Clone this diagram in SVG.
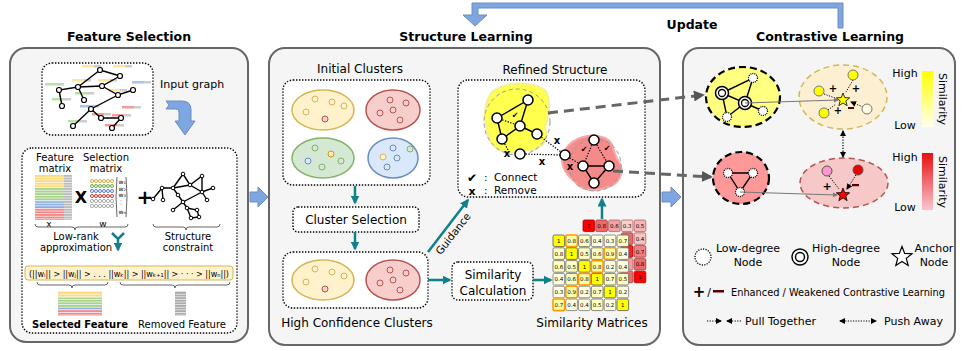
<svg xmlns="http://www.w3.org/2000/svg" width="964" height="351" viewBox="0 0 964 351">
<defs>
<style>
text{font-family:"DejaVu Sans",sans-serif;fill:#000}
.ttl{font-size:12.5px;font-weight:bold;text-anchor:middle}
.lbl{font-size:12px;text-anchor:middle}
.sm{font-size:10px;text-anchor:middle}
.lg{font-size:11px;text-anchor:middle}
.num{font-size:5.5px;text-anchor:middle}
.panel{fill:#f5f5f5;stroke:#666;stroke-width:2}
.dotbox{fill:#fff;stroke:#000;stroke-width:1.4;stroke-dasharray:1.4 1.6}
.teal{stroke:#10808a;stroke-width:2.5;fill:none}
.edge{stroke:#000;stroke-width:1.4;fill:none}
.dedge{stroke:#000;stroke-width:1.2;stroke-dasharray:1.3 1.5;fill:none}
.gn{fill:#fff;stroke:#000;stroke-width:1.2}
.wn{fill:#fff;stroke:#000;stroke-width:1.5}
.ln{fill:#fff;stroke:#000;stroke-width:1.3;stroke-dasharray:1 1}
.blue{fill:#7ea6e0;stroke:#6c8ebf;stroke-width:1}
.ey{fill:#fff2cc;stroke:#d6b656;stroke-width:1.5}
.er{fill:#f8cecc;stroke:#b85450;stroke-width:1.5}
.eg{fill:#d5e8d4;stroke:#82b366;stroke-width:1.5}
.eb{fill:#dae8fc;stroke:#6c8ebf;stroke-width:1.5}
.cy{fill:#fff2cc;stroke:#d6b656;stroke-width:1}
.cr{fill:#f8cecc;stroke:#b85450;stroke-width:1}
.cg{fill:#d5e8d4;stroke:#82b366;stroke-width:1}
.cb{fill:#dae8fc;stroke:#6c8ebf;stroke-width:1}
.co{fill:#ffe6cc;stroke:#d79b00;stroke-width:1}
.c1{fill:#ffff00;stroke:#555;stroke-width:0.8}
.cO{fill:#ffffa8;stroke:#ff9900;stroke-width:1.6}
.cp{fill:#ffffc2;stroke:#666;stroke-width:0.8}
.cq{fill:#ffffdf;stroke:#777;stroke-width:0.8}
.gd{stroke:#999;stroke-width:1;stroke-dasharray:4 3;fill:none}
.brace{fill:none;stroke:#555;stroke-width:0.9}
.pull{stroke:#000;stroke-width:1;stroke-dasharray:1.2 1.4;fill:none}
</style>
<marker id="ta" viewBox="0 0 6 6" refX="5" refY="3" markerWidth="9" markerHeight="9" markerUnits="userSpaceOnUse" orient="auto"><path d="M0,0 L6,3 L0,6 Z" fill="#10808a"/></marker>
<marker id="ga" viewBox="0 0 6 6" refX="5" refY="3" markerWidth="11" markerHeight="11" markerUnits="userSpaceOnUse" orient="auto"><path d="M0,0 L6,3 L0,6 Z" fill="#555"/></marker>
<marker id="ba" viewBox="0 0 6 6" refX="5" refY="3" markerWidth="6" markerHeight="6" markerUnits="userSpaceOnUse" orient="auto-start-reverse"><path d="M0,0 L6,3 L0,6 Z" fill="#000"/></marker>
<marker id="tn" viewBox="0 0 6 6" refX="5" refY="3" markerWidth="5" markerHeight="5" markerUnits="userSpaceOnUse" orient="auto"><path d="M0,0 L6,3 L0,6 Z" fill="#777"/></marker>
<pattern id="stripe" width="6" height="2.6" patternUnits="userSpaceOnUse"><rect width="6" height="0.8" fill="#fff" opacity="0.8"/></pattern>
<linearGradient id="gy" x1="0" y1="0" x2="0" y2="1"><stop offset="0" stop-color="#ffff00"/><stop offset="1" stop-color="#fffff0"/></linearGradient>
<linearGradient id="gr" x1="0" y1="0" x2="0" y2="1"><stop offset="0" stop-color="#e51010"/><stop offset="1" stop-color="#fbc4cf"/></linearGradient>
<path id="star" d="M0,-7 L1.763,-2.427 L6.657,-2.163 L2.853,0.927 L4.114,5.663 L0,3 L-4.114,5.663 L-2.853,0.927 L-6.657,-2.163 L-1.763,-2.427 Z"/>
</defs>
<rect width="964" height="351" fill="#fff"/>

<g id="titles">
<text class="ttl" x="129" y="41">Feature Selection</text>
<text class="ttl" x="466" y="41">Structure Learning</text>
<text class="ttl" x="830" y="41">Contrastive Learning</text>
<text class="ttl" x="692" y="29">Update</text>
</g>
<g id="update-arrow">
<path class="blue" d="M843,28 L843,3 L472,3 L472,15 L463,15 L475,26 L487,15 L478,15 L478,8 L838,8 L838,28 Z"/>
</g>

<g id="panel-feature"><rect class="panel" x="10" y="48" width="238" height="294" rx="16"/></g>
<g id="panel-structure"><rect class="panel" x="269" y="48" width="391" height="297" rx="16"/></g>
<g id="panel-contrastive"><rect class="panel" x="683" y="48" width="272" height="297" rx="16"/></g>

<g id="panel-arrows">
<path class="blue" d="M250,192 L258,192 L258,187 L268,197 L258,207 L258,202 L250,202 Z"/>
<path class="blue" d="M662,192 L671,192 L671,187 L681,197 L671,207 L671,202 L662,202 Z"/>
</g>

<g id="input-graph">
<rect class="dotbox" x="42" y="63" width="111" height="72" rx="10"/>
<g>
<rect x="82" y="65" width="12" height="2.5" fill="#ffe699"/><rect x="94" y="65" width="7" height="2.5" fill="#ccc"/>
<rect x="113" y="65" width="12" height="2.5" fill="#ffe699"/><rect x="125" y="65" width="7" height="2.5" fill="#ccc"/>
<rect x="72" y="79" width="12" height="2.5" fill="#ffe699"/><rect x="84" y="79" width="7" height="2.5" fill="#ccc"/>
<rect x="98" y="79" width="12" height="2.5" fill="#ffe699"/><rect x="110" y="79" width="7" height="2.5" fill="#ccc"/>
<rect x="45" y="83" width="12" height="2.5" fill="#b9e0a5"/><rect x="57" y="83" width="7" height="2.5" fill="#ccc"/>
<rect x="132" y="81" width="12" height="2.5" fill="#a9c4eb"/><rect x="144" y="81" width="7" height="2.5" fill="#ccc"/>
<rect x="75" y="92" width="12" height="2.5" fill="#b9e0a5"/><rect x="87" y="92" width="7" height="2.5" fill="#ccc"/>
<rect x="108" y="89" width="12" height="2.5" fill="#ffe699"/><rect x="120" y="89" width="7" height="2.5" fill="#ccc"/>
<rect x="52" y="98" width="12" height="2.5" fill="#b9e0a5"/><rect x="64" y="98" width="7" height="2.5" fill="#ccc"/>
<rect x="80" y="105" width="12" height="2.5" fill="#a9c4eb"/><rect x="92" y="105" width="7" height="2.5" fill="#ccc"/>
<rect x="122" y="106" width="12" height="2.5" fill="#f19c99"/><rect x="134" y="106" width="7" height="2.5" fill="#ccc"/>
<rect x="92" y="113" width="12" height="2.5" fill="#f19c99"/><rect x="104" y="113" width="7" height="2.5" fill="#ccc"/>
<rect x="112" y="114" width="12" height="2.5" fill="#f19c99"/><rect x="124" y="114" width="7" height="2.5" fill="#ccc"/>
<rect x="68" y="120" width="12" height="2.5" fill="#b9e0a5"/><rect x="80" y="120" width="7" height="2.5" fill="#ccc"/>
<rect x="105" y="124" width="12" height="2.5" fill="#f19c99"/><rect x="117" y="124" width="7" height="2.5" fill="#ccc"/>
</g>
<path class="edge" d="M100,70 L120,76 M100,70 L78,87 M78,87 L102,86 L120,76 M78,87 L59,90 L62,106 M78,87 L84,100 M102,86 L118,95 L133,90 M118,95 L91,109 L73,126 M91,109 L101,118 L121,118 L112,128"/>
<g class="gn">
<circle cx="100" cy="70" r="2.5"/><circle cx="120" cy="76" r="2.5"/><circle cx="78" cy="87" r="2.5"/><circle cx="102" cy="86" r="2.5"/><circle cx="59" cy="90" r="2.5"/><circle cx="133" cy="90" r="2.5"/><circle cx="118" cy="95" r="2.5"/><circle cx="84" cy="100" r="2.5"/><circle cx="62" cy="106" r="2.5"/><circle cx="91" cy="109" r="2.5"/><circle cx="101" cy="118" r="2.5"/><circle cx="121" cy="118" r="2.5"/><circle cx="73" cy="126" r="2.5"/><circle cx="112" cy="128" r="2.5"/>
</g>
<text x="160" y="88" font-size="11">Input graph</text>
<path class="blue" d="M166,101 L182,101 Q191,101 191,110 L191,121 L195,121 L185,135 L175,121 L179,121 L179,112 Q179,109 176,109 L166,109 L169,105 Z"/>
</g>

<g id="feature-selection">
<rect class="dotbox" x="22" y="148" width="215" height="185" rx="10"/>
<text class="sm" x="55" y="161">Feature</text>
<text class="sm" x="55" y="172">matrix</text>
<text class="sm" x="106" y="161">Selection</text>
<text class="sm" x="106" y="172">matrix</text>
<rect x="35" y="175" width="29" height="13" fill="#fbd97e"/>
<rect x="35" y="188" width="29" height="14" fill="#a9d18e"/>
<rect x="35" y="202" width="29" height="5" fill="#8fb1e3"/>
<rect x="35" y="207" width="29" height="13" fill="#ee8a8a"/>
<rect x="64" y="175" width="8" height="45" fill="#bbb"/>
<rect x="35" y="175" width="37" height="45" fill="url(#stripe)"/>
<text x="81" y="203" font-size="16" font-weight="bold" text-anchor="middle">X</text>
<g class="cy"><circle cx="92" cy="181" r="1.6"/><circle cx="96" cy="181" r="1.6"/><circle cx="100" cy="181" r="1.6"/><circle cx="104" cy="181" r="1.6"/><circle cx="108" cy="181" r="1.6"/><circle cx="112" cy="181" r="1.6"/></g>
<g class="cg"><circle cx="92" cy="186" r="1.6"/><circle cx="96" cy="186" r="1.6"/><circle cx="100" cy="186" r="1.6"/><circle cx="104" cy="186" r="1.6"/><circle cx="108" cy="186" r="1.6"/><circle cx="112" cy="186" r="1.6"/></g>
<g class="cb"><circle cx="92" cy="191" r="1.6"/><circle cx="96" cy="191" r="1.6"/><circle cx="100" cy="191" r="1.6"/><circle cx="104" cy="191" r="1.6"/><circle cx="108" cy="191" r="1.6"/><circle cx="112" cy="191" r="1.6"/></g>
<g class="cr"><circle cx="92" cy="196" r="1.6"/><circle cx="96" cy="196" r="1.6"/><circle cx="100" cy="196" r="1.6"/><circle cx="104" cy="196" r="1.6"/><circle cx="108" cy="196" r="1.6"/><circle cx="112" cy="196" r="1.6"/></g>
<g fill="#fff" stroke="#999" stroke-width="0.8"><circle cx="92" cy="201" r="1.6"/><circle cx="96" cy="201" r="1.6"/><circle cx="100" cy="201" r="1.6"/><circle cx="104" cy="201" r="1.6"/><circle cx="108" cy="201" r="1.6"/><circle cx="112" cy="201" r="1.6"/>
<circle cx="92" cy="206" r="1.6"/><circle cx="96" cy="206" r="1.6"/><circle cx="100" cy="206" r="1.6"/><circle cx="104" cy="206" r="1.6"/><circle cx="108" cy="206" r="1.6"/><circle cx="112" cy="206" r="1.6"/></g>
<path class="brace" d="M117,177 q-2,20 0,40 M126,177 q2,20 0,40"/>
<g font-size="6" font-family="DejaVu Serif,serif">
<text x="118.5" y="184">w₁</text><text x="118.5" y="191">w₂</text><text x="118.5" y="197">w₃</text><text x="120" y="203">·</text><text x="120" y="206">·</text><text x="118.5" y="214">wₙ</text>
</g>
<text x="145" y="204" font-size="20" font-weight="bold" text-anchor="middle">+</text>
<text x="49" y="227" font-size="9" text-anchor="middle">x</text>
<text x="103" y="227" font-size="9" text-anchor="middle">w</text>
<path class="brace" d="M35,224 q0,3 3,3 h34 q3,0 3,3 q0,-3 3,-3 h47 q3,0 3,-3"/>
<text class="sm" x="76" y="240">Low-rank</text>
<text class="sm" x="76" y="251">approximation</text>
<path class="edge" stroke-width="1" d="M183,174 L173,188 M183,174 L190,185 L202,176 L202,192 M190,185 L202,192 L213,188 M162,188 L173,188 L178,195 M173,188 L190,185 M162,188 L163,200 M162,188 L153,199 M178,195 L183,202 M202,192 L207,200 M202,192 L183,202 L173,210 M183,202 L187,208 L197,210 L199,217 M187,208 L191,218 L199,217"/>
<g fill="#fff" stroke="#000" stroke-width="1"><circle cx="183" cy="174" r="1.8"/><circle cx="202" cy="176" r="1.8"/><circle cx="162" cy="188" r="1.8"/><circle cx="173" cy="188" r="1.8"/><circle cx="190" cy="185" r="1.8"/><circle cx="202" cy="192" r="1.8"/><circle cx="213" cy="188" r="1.8"/><circle cx="178" cy="195" r="1.8"/><circle cx="153" cy="199" r="1.8"/><circle cx="163" cy="200" r="1.8"/><circle cx="207" cy="200" r="1.8"/><circle cx="183" cy="202" r="1.8"/><circle cx="173" cy="210" r="1.8"/><circle cx="187" cy="208" r="1.8"/><circle cx="197" cy="210" r="1.8"/><circle cx="191" cy="218" r="1.8"/><circle cx="199" cy="217" r="1.8"/></g>
<path class="brace" d="M153,224 q0,3 3,3 h27 q3,0 3,3 q0,-3 3,-3 h28 q3,0 3,-3"/>
<text class="sm" x="188" y="240">Structure</text>
<text class="sm" x="188" y="251">constraint</text>
<path class="teal" d="M112,233 L118,239 L124,233 M118,239 L118,250" marker-end="url(#ta)"/>
<rect x="25" y="266" width="208" height="14" rx="3" fill="#fff2cc" stroke="#d6b656" stroke-width="1"/>
<text x="129" y="276.5" font-size="8.5" font-family="DejaVu Serif,serif" text-anchor="middle" textLength="200" lengthAdjust="spacingAndGlyphs">(||wᵢ|| &gt; ||wⱼ|| &gt; . . . ||wₖ|| &gt; ||wₖ₊₁|| &gt; · · · &gt; ||wₙ||)</text>
<path class="brace" d="M37,282 q0,3 3,3 h29 q3,0 3,3 q0,-3 3,-3 h30 q3,0 3,-3"/>
<path class="brace" d="M120,282 q0,3 3,3 h49 q3,0 3,3 q0,-3 3,-3 h49 q3,0 3,-3"/>
<rect x="58" y="291" width="44" height="7" fill="#fbd97e"/>
<rect x="58" y="298" width="44" height="9" fill="#a9d18e"/>
<rect x="58" y="307" width="44" height="2.5" fill="#8fb1e3"/>
<rect x="58" y="309.5" width="44" height="6" fill="#ee8a8a"/>
<rect x="58" y="291" width="44" height="24.5" fill="url(#stripe)"/>
<rect x="175" y="291" width="11" height="24.5" fill="#aaa"/>
<rect x="175" y="291" width="11" height="24.5" fill="url(#stripe)"/>
<text x="80" y="328" font-size="10" font-weight="bold" text-anchor="middle">Selected Feature</text>
<text x="182" y="328" font-size="10" text-anchor="middle">Removed Feature</text>
</g>

<g id="initial-clusters">
<text class="lbl" x="360" y="73">Initial Clusters</text>
<rect class="dotbox" x="283" y="80" width="147" height="105" rx="10"/>
<ellipse class="ey" cx="323" cy="110" rx="31" ry="20"/>
<ellipse class="er" cx="393" cy="110" rx="27" ry="20"/>
<ellipse class="eg" cx="323" cy="158" rx="31" ry="20"/>
<ellipse class="eb" cx="393" cy="158" rx="25" ry="20"/>
<g class="cy"><circle cx="315" cy="99" r="3"/><circle cx="332" cy="102" r="3"/><circle cx="344" cy="106" r="3"/><circle cx="306" cy="112" r="3"/><circle cx="383" cy="157" r="3"/></g>
<g class="cr"><circle cx="325" cy="119" r="3"/><circle cx="390" cy="100" r="3"/><circle cx="406" cy="103" r="3"/><circle cx="393" cy="110" r="3"/><circle cx="380" cy="113" r="3"/><circle cx="400" cy="120" r="3"/></g>
<g class="cg"><circle cx="315" cy="148" r="3"/><circle cx="341" cy="161" r="3"/><circle cx="322" cy="167" r="3"/><circle cx="410" cy="149" r="3"/></g>
<circle class="co" cx="331" cy="154" r="3"/>
<g class="cb"><circle cx="308" cy="161" r="3"/><circle cx="393" cy="148" r="3"/><circle cx="397" cy="158" r="3"/><circle cx="387" cy="167" r="3"/></g>
</g>

<g id="cluster-selection">
<rect class="dotbox" x="293" y="207" width="126" height="25" rx="5"/>
<text class="lbl" x="356" y="224">Cluster Selection</text>
</g>

<g id="high-confidence">
<rect class="dotbox" x="283" y="252" width="145" height="56" rx="10"/>
<ellipse class="ey" cx="323" cy="280" rx="31" ry="20"/>
<ellipse class="er" cx="393" cy="280" rx="27" ry="20"/>
<g class="cy"><circle cx="315" cy="269" r="3"/><circle cx="332" cy="272" r="3"/><circle cx="344" cy="276" r="3"/><circle cx="306" cy="282" r="3"/></g>
<g class="cr"><circle cx="325" cy="289" r="3"/><circle cx="390" cy="270" r="3"/><circle cx="406" cy="273" r="3"/><circle cx="393" cy="280" r="3"/><circle cx="380" cy="283" r="3"/><circle cx="400" cy="290" r="3"/></g>
<text class="lbl" x="357" y="327">High Confidence Clusters</text>
</g>

<g id="similarity-calculation">
<rect class="dotbox" x="452" y="262" width="81" height="38" rx="6"/>
<text class="lbl" x="493" y="279">Similarity</text>
<text class="lbl" x="493" y="295">Calculation</text>
</g>

<g id="similarity-matrices">
<g stroke-width="0.8">
<rect x="583" y="220" width="11.6" height="11.6" rx="1.5" fill="#ff0000" stroke="#900"/>
<rect x="595.8" y="220" width="11.6" height="11.6" rx="1.5" fill="#f06868" stroke="#944"/>
<rect x="608.6" y="220" width="11.6" height="11.6" rx="1.5" fill="#f4a0a0" stroke="#a66"/>
<rect x="621.4" y="220" width="11.6" height="11.6" rx="1.5" fill="#f9d0d0" stroke="#a66"/>
<rect x="634.2" y="220" width="11.6" height="11.6" rx="1.5" fill="#f6b4b4" stroke="#a66"/>
<rect x="621.4" y="232.8" width="11.6" height="11.6" rx="1.5" fill="#f06868" stroke="#944"/>
<rect x="621.4" y="245.6" width="11.6" height="11.6" rx="1.5" fill="#ff2020" stroke="#900"/>
<rect x="621.4" y="258.4" width="11.6" height="11.6" rx="1.5" fill="#f4a0a0" stroke="#a66"/>
<rect x="621.4" y="271.2" width="11.6" height="11.6" rx="1.5" fill="#f06868" stroke="#944"/>
<rect x="634.2" y="232.8" width="11.6" height="11.6" rx="1.5" fill="#f8c4c4" stroke="#a66"/>
<rect x="634.2" y="245.6" width="11.6" height="11.6" rx="1.5" fill="#f08080" stroke="#944"/>
<rect x="634.2" y="258.4" width="11.6" height="11.6" rx="1.5" fill="#f06868" stroke="#944"/>
<rect x="634.2" y="271.2" width="11.6" height="11.6" rx="1.5" fill="#ff0000" stroke="#900"/>
</g>
<g class="num">
<text x="588.8" y="228">1</text><text x="601.6" y="228">0.8</text><text x="614.4" y="228">0.6</text><text x="627.2" y="228">0.3</text><text x="640" y="228">0.5</text>
<text x="640" y="240.8">0.4</text><text x="640" y="253.6">0.7</text><text x="640" y="266.4">0.8</text><text x="640" y="279.2">1</text>
</g>
<rect class="c1" x="553" y="235" width="11.6" height="11.6" rx="1.5"/><rect class="cO" x="565.8" y="235" width="11.6" height="11.6" rx="1.5"/><rect class="cp" x="578.6" y="235" width="11.6" height="11.6" rx="1.5"/><rect class="cq" x="591.4" y="235" width="11.6" height="11.6" rx="1.5"/><rect class="cq" x="604.2" y="235" width="11.6" height="11.6" rx="1.5"/><rect class="cp" x="617" y="235" width="11.6" height="11.6" rx="1.5"/>
<rect class="cp" x="553" y="247.8" width="11.6" height="11.6" rx="1.5"/><rect class="c1" x="565.8" y="247.8" width="11.6" height="11.6" rx="1.5"/><rect class="cp" x="578.6" y="247.8" width="11.6" height="11.6" rx="1.5"/><rect class="cp" x="591.4" y="247.8" width="11.6" height="11.6" rx="1.5"/><rect class="cO" x="604.2" y="247.8" width="11.6" height="11.6" rx="1.5"/><rect class="cq" x="617" y="247.8" width="11.6" height="11.6" rx="1.5"/>
<rect class="cp" x="553" y="260.6" width="11.6" height="11.6" rx="1.5"/><rect class="cp" x="565.8" y="260.6" width="11.6" height="11.6" rx="1.5"/><rect class="c1" x="578.6" y="260.6" width="11.6" height="11.6" rx="1.5"/><rect class="cO" x="591.4" y="260.6" width="11.6" height="11.6" rx="1.5"/><rect class="cq" x="604.2" y="260.6" width="11.6" height="11.6" rx="1.5"/><rect class="cq" x="617" y="260.6" width="11.6" height="11.6" rx="1.5"/>
<rect class="cq" x="553" y="273.4" width="11.6" height="11.6" rx="1.5"/><rect class="cp" x="565.8" y="273.4" width="11.6" height="11.6" rx="1.5"/><rect class="cO" x="578.6" y="273.4" width="11.6" height="11.6" rx="1.5"/><rect class="c1" x="591.4" y="273.4" width="11.6" height="11.6" rx="1.5"/><rect class="cp" x="604.2" y="273.4" width="11.6" height="11.6" rx="1.5"/><rect class="cp" x="617" y="273.4" width="11.6" height="11.6" rx="1.5"/>
<rect class="cq" x="553" y="286.2" width="11.6" height="11.6" rx="1.5"/><rect class="cO" x="565.8" y="286.2" width="11.6" height="11.6" rx="1.5"/><rect class="cq" x="578.6" y="286.2" width="11.6" height="11.6" rx="1.5"/><rect class="cp" x="591.4" y="286.2" width="11.6" height="11.6" rx="1.5"/><rect class="c1" x="604.2" y="286.2" width="11.6" height="11.6" rx="1.5"/><rect class="cq" x="617" y="286.2" width="11.6" height="11.6" rx="1.5"/>
<rect class="cO" x="553" y="299" width="11.6" height="11.6" rx="1.5"/><rect class="cq" x="565.8" y="299" width="11.6" height="11.6" rx="1.5"/><rect class="cq" x="578.6" y="299" width="11.6" height="11.6" rx="1.5"/><rect class="cp" x="591.4" y="299" width="11.6" height="11.6" rx="1.5"/><rect class="cq" x="604.2" y="299" width="11.6" height="11.6" rx="1.5"/><rect class="c1" x="617" y="299" width="11.6" height="11.6" rx="1.5"/>
<g class="num">
<text x="558.8" y="243">1</text><text x="571.6" y="243">0.8</text><text x="584.4" y="243">0.6</text><text x="597.2" y="243">0.4</text><text x="610" y="243">0.3</text><text x="622.8" y="243">0.7</text>
<text x="558.8" y="255.8">0.8</text><text x="571.6" y="255.8">1</text><text x="584.4" y="255.8">0.5</text><text x="597.2" y="255.8">0.6</text><text x="610" y="255.8">0.9</text><text x="622.8" y="255.8">0.4</text>
<text x="558.8" y="268.6">0.6</text><text x="571.6" y="268.6">0.5</text><text x="584.4" y="268.6">1</text><text x="597.2" y="268.6">0.8</text><text x="610" y="268.6">0.2</text><text x="622.8" y="268.6">0.4</text>
<text x="558.8" y="281.4">0.4</text><text x="571.6" y="281.4">0.6</text><text x="584.4" y="281.4">0.8</text><text x="597.2" y="281.4">1</text><text x="610" y="281.4">0.7</text><text x="622.8" y="281.4">0.5</text>
<text x="558.8" y="294.2">0.3</text><text x="571.6" y="294.2">0.9</text><text x="584.4" y="294.2">0.2</text><text x="597.2" y="294.2">0.7</text><text x="610" y="294.2">1</text><text x="622.8" y="294.2">0.2</text>
<text x="558.8" y="307">0.7</text><text x="571.6" y="307">0.4</text><text x="584.4" y="307">0.4</text><text x="597.2" y="307">0.5</text><text x="610" y="307">0.2</text><text x="622.8" y="307">1</text>
</g>
<text class="lbl" x="592" y="327">Similarity Matrices</text>
</g>

<g id="refined-structure">
<text class="lbl" x="555" y="74">Refined Structure</text>
<rect class="dotbox" x="458" y="80" width="187" height="117" rx="10"/>
<path d="M492,92 C505,82 530,80 545,90 C552,100 548,118 545,128 C550,140 540,152 525,150 C512,156 495,152 490,140 C484,125 482,105 492,92 Z" fill="#ffff4d" stroke="#f6f090" stroke-width="2"/>
<path d="M565,150 C572,138 590,132 605,138 C615,142 612,152 618,160 C626,172 620,185 605,188 C595,192 580,190 575,182 C566,175 557,162 565,150 Z" fill="#f58a8a" stroke="#f8a8a8" stroke-width="2"/>
<circle class="gd" cx="517" cy="122" r="33"/>
<circle class="gd" cx="595" cy="165" r="26"/>
<path class="edge" d="M528,100 L497,118 L502,139 L520,126 L528,100 M520,126 L537,134 M583,166 L609,166 L594,183 Z"/>
<path class="dedge" d="M497,118 L520,126 M537,134 L565,155 M520,154 L565,155 M565,155 L583,166 M594,140 L583,166 M594,140 L609,166 M502,139 L508,150"/>
<g class="wn"><circle cx="528" cy="100" r="5"/><circle cx="497" cy="118" r="5"/><circle cx="520" cy="126" r="5"/><circle cx="537" cy="134" r="5"/><circle cx="502" cy="139" r="5"/><circle cx="520" cy="154" r="5"/><circle cx="565" cy="155" r="5"/><circle cx="594" cy="140" r="5"/><circle cx="583" cy="166" r="5"/><circle cx="609" cy="166" r="5"/><circle cx="594" cy="183" r="5"/></g>
<g font-size="8" text-anchor="middle"><text x="515" y="118">✔</text><text x="584" y="152">✔</text><text x="607" y="151">✔</text></g>
<g font-size="10" font-weight="bold" text-anchor="middle"><text x="507" y="157">x</text><text x="557" y="144">x</text><text x="542" y="165">x</text><text x="570" y="170">x</text></g>
<text x="472" y="182" font-size="12" text-anchor="middle">✔</text>
<text x="472" y="195" font-size="11" font-weight="bold" text-anchor="middle">x</text>
<text x="484" y="181" font-size="10.5">:</text>
<text x="484" y="194" font-size="10.5">:</text>
<text x="494" y="181" font-size="10.5">Connect</text>
<text x="494" y="194" font-size="10.5">Remove</text>
</g>

<g id="cl-yellow-graph">
<ellipse cx="743" cy="97" rx="37" ry="30" fill="#ffff80" stroke="#000" stroke-width="2.2" stroke-dasharray="7 4"/>
<path class="edge" d="M722,93 L753,78 L745,103 L722,93 L727,117 M745,103 L727,117 M745,103 L763,111"/>
<circle class="ln" cx="753" cy="78" r="4.5"/><circle class="ln" cx="727" cy="117" r="4.5"/><circle class="ln" cx="763" cy="111" r="4.5"/>
<circle class="wn" cx="722" cy="93" r="6.5"/><circle fill="none" stroke="#000" stroke-width="1.3" cx="722" cy="93" r="3.5"/>
<circle class="wn" cx="745" cy="103" r="6.5"/><circle fill="none" stroke="#000" stroke-width="1.3" cx="745" cy="103" r="3.5"/>
</g>

<g id="cl-red-graph">
<ellipse cx="741" cy="178" rx="28" ry="26" fill="#f99" stroke="#000" stroke-width="2.2" stroke-dasharray="7 4"/>
<path class="edge" d="M728,173 L753,173 L740,192 Z"/>
<circle class="ln" cx="728" cy="173" r="4.5"/><circle class="ln" cx="753" cy="173" r="4.5"/><circle class="ln" cx="740" cy="192" r="4.5"/>
</g>

<g id="cl-yellow-anchor">
<ellipse cx="843" cy="97" rx="44" ry="32" fill="#fdefd2" stroke="#d6b656" stroke-width="1.5" stroke-dasharray="6 4"/>
<path class="pull" d="M853,80 L846,92 M824,94 L835,98 M828,110 L836,104 M863,107 L851,102" marker-end="url(#ba)"/>
<circle cx="853" cy="75" r="5" fill="#ffff00" stroke="#777"/>
<circle cx="819" cy="91" r="5" fill="#ffff00" stroke="#777"/>
<circle cx="824" cy="113" r="5" fill="#ffff00" stroke="#777"/>
<circle cx="867" cy="109" r="5" fill="#fffbe0" stroke="#777"/>
<use href="#star" x="843" y="100" fill="#ffff00" stroke="#000" stroke-width="0.8"/>
<g font-size="10" font-weight="bold" text-anchor="middle"><text x="833" y="92">+</text><text x="856" y="92">+</text><text x="838" y="114">+</text></g>
<rect x="848" y="107" width="6" height="2" fill="#5a0000"/>
</g>

<g id="cl-red-anchor">
<ellipse cx="844" cy="183" rx="44" ry="25" fill="#f6c8c8" stroke="#b85450" stroke-width="1.5" stroke-dasharray="6 4"/>
<path class="pull" d="M829,176 L839,189 M856,175 L847,189" marker-end="url(#ba)"/>
<circle cx="827" cy="171" r="5" fill="#ff99cc" stroke="#555"/>
<circle cx="858" cy="170" r="5" fill="#ee0000" stroke="#555"/>
<use href="#star" x="843" y="195" fill="#ff0000" stroke="#000" stroke-width="0.8"/>
<text x="827" y="190" font-size="11" font-weight="bold" text-anchor="middle">+</text>
<rect x="852" y="184" width="7" height="2.2" fill="#5a0000"/>
</g>

<g id="colorbars">
<rect x="922" y="71" width="11" height="56" fill="url(#gy)"/>
<rect x="922" y="153" width="11" height="57" fill="url(#gr)"/>
<text class="lg" x="905" y="77">High</text>
<text class="lg" x="905" y="129">Low</text>
<text class="lg" x="905" y="161">High</text>
<text class="lg" x="905" y="211">Low</text>
<text class="lg" x="0" y="0" transform="translate(939,99) rotate(90)">Similarity</text>
<text class="lg" x="0" y="0" transform="translate(939,182) rotate(90)">Similarity</text>
</g>

<g id="legend">
<circle cx="703" cy="257" r="8" fill="#fff" stroke="#000" stroke-width="1.3" stroke-dasharray="1.2 1.3"/>
<text class="lg" x="748" y="252">Low-degree</text>
<text class="lg" x="748" y="266">Node</text>
<circle cx="800" cy="257" r="8" fill="#fff" stroke="#000" stroke-width="1.4"/>
<circle cx="800" cy="257" r="4.5" fill="none" stroke="#000" stroke-width="1.4"/>
<text class="lg" x="846" y="252">High-degree</text>
<text class="lg" x="846" y="266">Node</text>
<use href="#star" transform="translate(902,257) scale(1.5)" fill="#fff" stroke="#000" stroke-width="0.8"/>
<text class="lg" x="934" y="252">Anchor</text>
<text class="lg" x="934" y="266">Node</text>
<text x="699" y="297" font-size="15" font-weight="bold" text-anchor="middle">+</text>
<text x="709" y="296" font-size="11" text-anchor="middle">/</text>
<rect x="713" y="290" width="11" height="2.5" fill="#5a0000"/>
<text x="731" y="296" font-size="10.5" textLength="214" lengthAdjust="spacingAndGlyphs">Enhanced / Weakened Contrastive Learning</text>
<path class="pull" d="M707,321 L721,321" marker-end="url(#ba)"/>
<path class="pull" d="M741,321 L727,321" marker-end="url(#ba)"/>
<text x="745" y="325" font-size="11">Pull Together</text>
<path class="pull" d="M840,321 L876,321" marker-start="url(#ba)" marker-end="url(#ba)"/>
<text x="884" y="325" font-size="11">Push Away</text>
</g>

<g id="connectors">
<path class="teal" d="M355,186 L355,203" marker-end="url(#ta)"/>
<path class="teal" d="M355,232 L355,249" marker-end="url(#ta)"/>
<path class="teal" d="M428,252 L468,200" marker-end="url(#ta)"/>
<path class="teal" d="M428,280 L450,280" marker-end="url(#ta)"/>
<path class="teal" d="M533,280 L551,280" marker-end="url(#ta)"/>
<path class="teal" d="M602,219 L602,199" marker-end="url(#ta)"/>
<text x="0" y="0" font-size="10.5" text-anchor="middle" transform="translate(456,236) rotate(-52)">Guidance</text>
<path d="M548,113 L703,95" stroke="#666" stroke-width="3" stroke-dasharray="10 6" fill="none" marker-end="url(#ga)"/>
<path d="M613,171 L711,177" stroke="#666" stroke-width="3" stroke-dasharray="10 6" fill="none" marker-end="url(#ga)"/>
<path d="M745,103 L838,100" stroke="#777" stroke-width="1" fill="none" marker-end="url(#tn)"/>
<path d="M740,192 L837,195" stroke="#777" stroke-width="1" fill="none" marker-end="url(#tn)"/>
<path d="M843,131 L843,157" stroke="#000" stroke-width="1.2" stroke-dasharray="1.3 1.5" fill="none" marker-start="url(#ba)" marker-end="url(#ba)"/>
</g>
</svg>
